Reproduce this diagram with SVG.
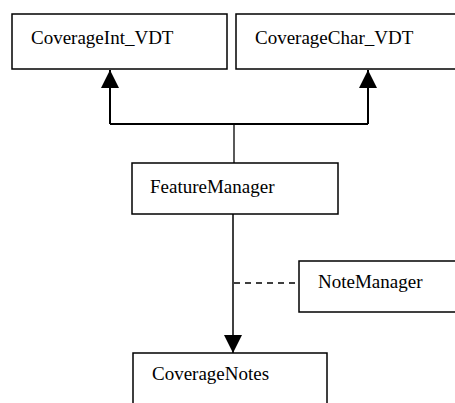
<svg xmlns="http://www.w3.org/2000/svg" width="455" height="403" viewBox="0 0 455 403">
<style>
.box{fill:#fff;stroke:#000;stroke-width:1.5}
.lbl{font-family:"Liberation Serif","Times New Roman",serif;font-size:19px;fill:#000}
.ln{fill:none;stroke:#000}
</style>
<defs>
<marker id="tri" viewBox="0 0 18 18" refX="18" refY="9" markerWidth="18" markerHeight="18" markerUnits="userSpaceOnUse" orient="auto">
<path d="M0,0 L18,9 L0,18 Z" fill="#000"/>
</marker>
</defs>
<rect width="455" height="403" fill="#fff"/>
<g id="connectors">
<path class="ln" stroke-width="2" d="M110,124 H368"/>
<path class="ln" stroke-width="2" d="M110,124 V70" marker-end="url(#tri)"/>
<path class="ln" stroke-width="2" d="M368,124 V70" marker-end="url(#tri)"/>
<path class="ln" stroke-width="1.3" d="M234,124 V163"/>
<path class="ln" stroke-width="1.5" d="M233,214 V353" marker-end="url(#tri)"/>
<path class="ln" stroke-width="1.3" stroke-dasharray="6,5" d="M234,283 H299"/>
</g>
<g id="CoverageInt_VDT">
<rect class="box" x="12" y="14" width="215" height="55"/>
<text class="lbl" x="31" y="44">CoverageInt_VDT</text>
</g>
<g id="CoverageChar_VDT">
<rect class="box" x="236" y="14" width="240" height="55"/>
<text class="lbl" x="255" y="44">CoverageChar_VDT</text>
</g>
<g id="FeatureManager">
<rect class="box" x="132" y="163" width="206" height="51"/>
<text class="lbl" x="150" y="193">FeatureManager</text>
</g>
<g id="NoteManager">
<rect class="box" x="299" y="261" width="180" height="51"/>
<text class="lbl" x="318" y="288">NoteManager</text>
</g>
<g id="CoverageNotes">
<rect class="box" x="133" y="353" width="194" height="60"/>
<text class="lbl" x="152" y="380">CoverageNotes</text>
</g>
</svg>
